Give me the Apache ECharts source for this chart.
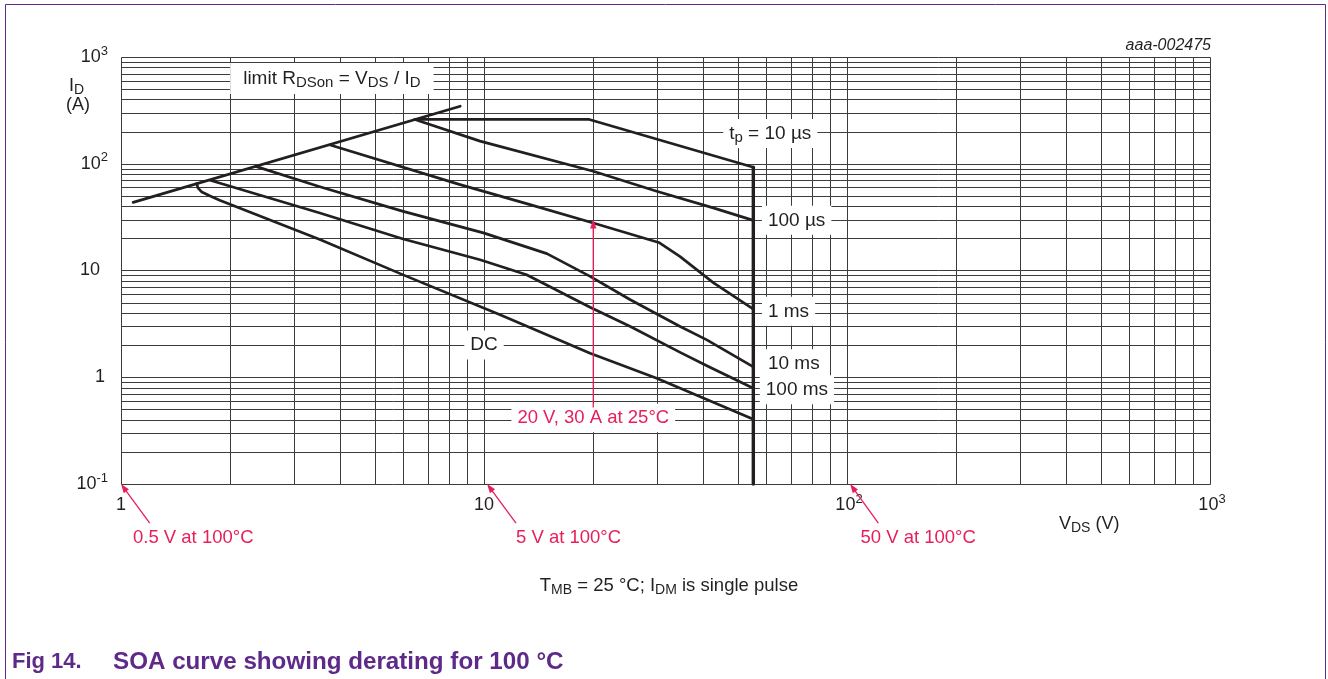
<!DOCTYPE html>
<html>
<head>
<meta charset="utf-8">
<script src="https://cdn.jsdelivr.net/npm/echarts@6/dist/echarts.min.js"></script>
<style>
  html, body { margin: 0; padding: 0; background: #fff; }
  #chart { width: 1328px; height: 679px; }
</style>
</head>
<body>
<div id="chart"></div>
<script>
// ---- SOA data: drain current I_D (A) versus drain-source voltage V_DS (V) ----
const limitRdsOn = [[1.08, 43.5], [8.6, 346]];
const pulse10us  = [[6.45, 260], [19.5, 260], [55.2, 92.7]];
const pulse100us = [[6.45, 260], [9.75, 163], [20.0, 85.0], [29.9, 55.2], [42.8, 38.6], [55.2, 29.5]];
const pulse1ms   = [[3.77, 150], [8.59, 63.8], [13.39, 41.4], [20.0, 27.9], [30.3, 18.3], [34.7, 13.5], [42.8, 7.7], [55.2, 4.34]];
const pulse10ms  = [[2.35, 94.5], [3.53, 61.0], [5.99, 35.8], [9.96, 22.5], [14.9, 14.4], [19.6, 8.81], [25.3, 5.32], [34.7, 2.99], [41.1, 2.24], [55.2, 1.25]];
const pulse100ms = [[1.76, 70.0], [3.53, 34.6], [5.99, 19.7], [9.75, 12.6], [13.1, 9.13], [19.6, 4.53], [25.3, 2.99], [34.7, 1.71], [41.1, 1.28], [55.2, 0.79]];
const dcCurve    = [[1.617, 65.2], [1.63, 59.2], [1.67, 54.3], [1.76, 49.8], [1.87, 45.6], [3.53, 19.5], [5.99, 9.1], [11.07, 3.85], [19.6, 1.68], [29.9, 0.98], [55.2, 0.405]];
const bvdssLimit = [[55.2, 92.7], [55.2, 0.1]];

// axis ranges and decade tick labels ([base, exponent])
const xRange = [1, 1000];
const yRange = [0.1, 1000];
const xTickLabels = [['1', ''], ['10', ''], ['10', '2'], ['10', '3']];
const yTickLabels = [['10', '-1'], ['1', ''], ['10', ''], ['10', '2'], ['10', '3']];

// grid lines at 1..9 of every decade
const xGridValues = [1,2,3,4,5,6,7,8,9,10,20,30,40,50,60,70,80,90,100,200,300,400,500,600,700,800,900,1000];
const yGridValues = [0.1,0.2,0.3,0.4,0.5,0.6,0.7,0.8,0.9,1,2,3,4,5,6,7,8,9,10,20,30,40,50,60,70,80,90,100,200,300,400,500,600,700,800,900,1000];

const FONT = '"Liberation Sans", Arial, Helvetica, sans-serif';
const INK = '#231f20';
const GRID = '#3c3c3c';
const RED = '#e61e5a';
const PURPLE = '#5e2a8a';

const chart = echarts.init(document.getElementById('chart'), null, { renderer: 'canvas' });

function gridLineSeries(values, vertical) {
  return {
    type: 'custom', silent: true, z: 1, clip: false, animation: false,
    data: values.map(v => vertical ? [v, 1] : [1, v]),
    encode: { x: 0, y: 1 },
    renderItem(params, api) {
      let a, b;
      if (vertical) {
        const v = api.value(0);
        a = api.coord([v, yRange[0]]); b = api.coord([v, yRange[1]]);
        const x = Math.round(a[0]) + 0.5;
        return { type: 'line', shape: { x1: x, y1: Math.round(a[1]) + 0.5, x2: x, y2: Math.round(b[1]) + 0.5 },
                 style: { stroke: GRID, lineWidth: 1 } };
      }
      const v = api.value(1);
      a = api.coord([xRange[0], v]); b = api.coord([xRange[1], v]);
      const y = Math.round(a[1]) + 0.5;
      return { type: 'line', shape: { x1: Math.round(a[0]) + 0.5, y1: y, x2: Math.round(b[0]) + 0.5, y2: y },
               style: { stroke: GRID, lineWidth: 1 } };
    }
  };
}

function curve(data, width) {
  return { type: 'line', data, showSymbol: false, silent: true, z: 3, clip: false, animation: false,
           lineStyle: { color: INK, width: width || 2.7, join: 'round', cap: 'round' } };
}

const axisRich = {
  b:   { fontSize: 18, fontFamily: FONT, color: INK, lineHeight: 22 },
  sup: { fontSize: 13, fontFamily: FONT, color: INK, lineHeight: 22, padding: [0, 0, 12, 0] },
  sp:  { width: 8, lineHeight: 22 },
  spx: { width: 4, lineHeight: 22 },
  sp1: { width: 3, lineHeight: 22 }
};

chart.setOption({
  animation: false,
  grid: { left: 121, right: 118, top: 57, bottom: 195 },
  xAxis: {
    type: 'log', logBase: 10, min: xRange[0], max: xRange[1],
    axisLine: { show: false }, axisTick: { show: false }, splitLine: { show: false },
    axisLabel: {
      margin: 10,
      formatter: v => {
        const t = xTickLabels[Math.round(Math.log10(v))];
        return t[1] ? '{spx|}{b|' + t[0] + '}{sup|' + t[1] + '}' : '{b|' + t[0] + '}';
      },
      rich: axisRich
    }
  },
  yAxis: {
    type: 'log', logBase: 10, min: yRange[0], max: yRange[1],
    axisLine: { show: false }, axisTick: { show: false }, splitLine: { show: false },
    axisLabel: {
      margin: 13,
      formatter: v => {
        const t = yTickLabels[Math.round(Math.log10(v)) + 1];
        if (t[1]) return '{b|' + t[0] + '}{sup|' + t[1] + '}';
        return '{b|' + t[0] + '}' + (t[0].length > 1 ? '{sp|}' : '{sp1|}');
      },
      rich: axisRich
    }
  },
  series: [
    gridLineSeries(xGridValues, true),
    gridLineSeries(yGridValues, false),
    curve(limitRdsOn), curve(pulse10us), curve(pulse100us), curve(pulse1ms),
    curve(pulse10ms), curve(pulse100ms), curve(dcCurve), curve(bvdssLimit, 3.4)
  ]
});

// ---- annotations, placed in data space through the grid's own scales ----
const px = p => chart.convertToPixel({ gridIndex: 0 }, p);

function richSet(size, subSize, color) {
  return {
    n:   { fontSize: size, fontFamily: FONT, fill: color, lineHeight: size + 4 },
    sub: { fontSize: subSize, fontFamily: FONT, fill: color, lineHeight: size + 4, padding: [9, 0, 0, 0] }
  };
}

function textAt(p, text, opt) {
  opt = opt || {};
  return {
    type: 'text', x: p[0], y: p[1], z: 20, silent: true,
    style: {
      text, rich: opt.rich || richSet(19, 15, opt.color || INK),
      align: opt.align || 'left', verticalAlign: opt.verticalAlign || 'middle',
      backgroundColor: opt.bg === false ? null : '#fff',
      padding: opt.padding || [3, 6, 3, 6],
      fill: opt.color || INK,
      fontFamily: FONT, fontSize: 19
    }
  };
}

function arrow(from, to, color) {
  const a = px(from), b = px(to);
  const dx = b[0] - a[0], dy = b[1] - a[1];
  const len = Math.hypot(dx, dy), ux = dx / len, uy = dy / len;
  const L = 9, W = 3.2;
  const bx = b[0] - ux * L, by = b[1] - uy * L;
  return [
    { type: 'line', z: 21, silent: true,
      shape: { x1: a[0], y1: a[1], x2: b[0] - ux * L * 0.6, y2: b[1] - uy * L * 0.6 },
      style: { stroke: color, lineWidth: 1.3 } },
    { type: 'polygon', z: 21, silent: true,
      shape: { points: [[b[0], b[1]], [bx - uy * W, by + ux * W], [bx + uy * W, by - ux * W]] },
      style: { fill: color } }
  ];
}

const curveLabels = [
  { at: [3.81, 630],  text: '{n|limit R}{sub|DSon}{n| = V}{sub|DS}{n| / I}{sub|D}', align: 'center', padding: [4, 13, 4, 13] },
  { at: [45.6, 192],  text: '{n|t}{sub|p}{n| = 10 µs}' },
  { at: [58.3, 29.5], text: '{n|100 µs}' },
  { at: [58.3, 4.15], text: '{n|1 ms}' },
  { at: [58.3, 1.336], text: '{n|10 ms}' },
  { at: [57.5, 0.762], text: '{n|100 ms}' },
  { at: [10, 2.01],   text: '{n|DC}', align: 'center' }
];

const redNotes = [
  { at: [20, 0.416], text: '20 V, 30 A at 25°C', align: 'center', bg: true },
  { at: [1.079, 0.0315], text: '0.5 V at 100°C' },
  { at: [12.25, 0.0315], text: '5 V at 100°C' },
  { at: [108.9, 0.0315], text: '50 V at 100°C' }
];

const redArrows = [
  [[20, 0.52], [20, 30]],
  [[1.2, 0.0431], [1.0, 0.1]],
  [[12.25, 0.0431], [10.2, 0.1]],
  [[122, 0.0431], [102, 0.1]]
];

const graphics = [];
// figure frame
graphics.push({ type: 'rect', z: 0, silent: true, shape: { x: 5.5, y: 4.5, width: 1320, height: 700 },
                style: { fill: null, stroke: PURPLE, lineWidth: 1 } });

curveLabels.forEach(l => graphics.push(textAt(px(l.at), l.text, { align: l.align, padding: l.padding })));
redArrows.forEach(a => graphics.push(...arrow(a[0], a[1], RED)));
redNotes.forEach(l => graphics.push(textAt(px(l.at), '{n|' + l.text + '}', {
  align: l.align, color: RED, rich: richSet(18.5, 14, RED), bg: l.bg ? true : false,
  padding: l.bg ? [3, 6, 3, 6] : [0, 0, 0, 0]
})));

// axis names, drawing id, caption and figure title
graphics.push(textAt([69, 86], '{n|I}{sub|D}', { bg: false, padding: [0, 0, 0, 0], rich: richSet(18, 14, INK) }));
graphics.push(textAt([66, 105], '{n|(A)}', { bg: false, padding: [0, 0, 0, 0], rich: richSet(18, 14, INK) }));
graphics.push(textAt([1059, 524], '{n|V}{sub|DS}{n| (V)}', { bg: false, padding: [0, 0, 0, 0], rich: richSet(18, 14, INK) }));
graphics.push({ type: 'text', x: 1211, y: 46, silent: true,
  style: { text: 'aaa-002475', align: 'right', verticalAlign: 'middle', fill: INK,
           font: 'italic 16px ' + FONT } });
graphics.push(textAt([669, 586], '{n|T}{sub|MB}{n| = 25 °C; I}{sub|DM}{n| is single pulse}',
  { align: 'center', bg: false, padding: [0, 0, 0, 0], rich: richSet(18.5, 14, INK) }));
graphics.push({ type: 'text', x: 12, y: 662, silent: true,
  style: { text: 'Fig 14.', align: 'left', verticalAlign: 'middle', fill: PURPLE, font: 'bold 22px ' + FONT } });
graphics.push({ type: 'text', x: 113, y: 662, silent: true,
  style: { text: 'SOA curve showing derating for 100 °C', align: 'left', verticalAlign: 'middle',
           fill: PURPLE, font: 'bold 24.2px ' + FONT } });

chart.setOption({ graphic: { elements: graphics } });
</script>
</body>
</html>
